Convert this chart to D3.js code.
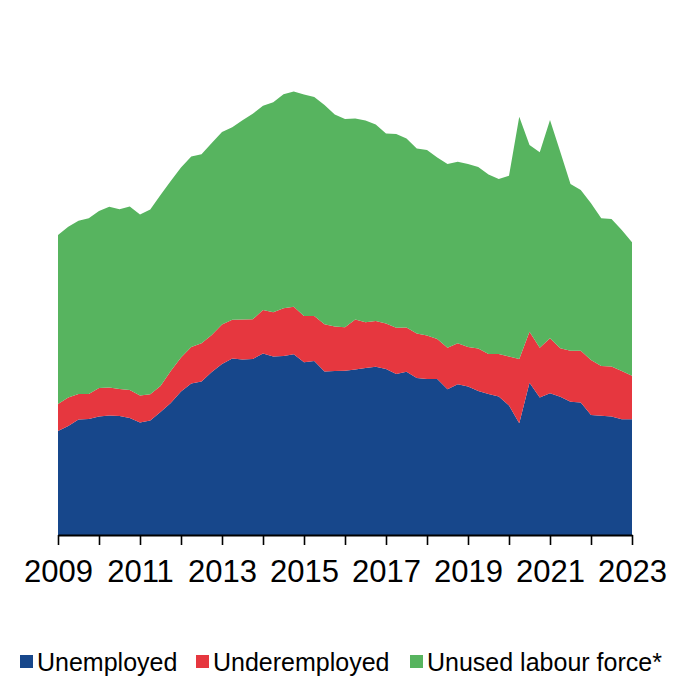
<!DOCTYPE html>
<html>
<head>
<meta charset="utf-8">
<script src="https://cdn.jsdelivr.net/npm/d3@7"></script>
<style>
  html, body { margin: 0; padding: 0; background: #ffffff; }
  svg { display: block; font-family: "Liberation Sans", Arial, sans-serif; }
</style>
</head>
<body>
<svg id="chart" width="685" height="678"></svg>
<script>
// Quarterly observations, 2009 Q1 – 2023 Q1 (thousands of people)
const quarters = [
  "2009Q1","2009Q2","2009Q3","2009Q4","2010Q1","2010Q2","2010Q3","2010Q4",
  "2011Q1","2011Q2","2011Q3","2011Q4","2012Q1","2012Q2","2012Q3","2012Q4",
  "2013Q1","2013Q2","2013Q3","2013Q4","2014Q1","2014Q2","2014Q3","2014Q4",
  "2015Q1","2015Q2","2015Q3","2015Q4","2016Q1","2016Q2","2016Q3","2016Q4",
  "2017Q1","2017Q2","2017Q3","2017Q4","2018Q1","2018Q2","2018Q3","2018Q4",
  "2019Q1","2019Q2","2019Q3","2019Q4","2020Q1","2020Q2","2020Q3","2020Q4",
  "2021Q1","2021Q2","2021Q3","2021Q4","2022Q1","2022Q2","2022Q3","2022Q4",
  "2023Q1"
];

const unemployed = [
  104, 109, 115.5, 116, 118.5, 119.5, 119, 117,
  112.5, 114.5, 123, 132, 143.5, 151.5, 153.5, 163,
  171, 176.5, 175.5, 176, 181.5, 178.5, 179, 180.7,
  172.7, 174, 163.5, 164, 164.3, 165.5, 167, 168.3,
  166, 161, 163.3, 157, 156, 156, 145.7, 150.7,
  148.5, 144, 141, 138.5, 129.5, 111.7, 152.3, 137.5,
  141.7, 138.3, 133.3, 132.5, 120, 119.3, 118.5, 115.7,
  115.7
];

const underemployed = [
  27, 28.5, 25.5, 25, 28.5, 28, 27, 28,
  27, 26.2, 26, 32, 34, 36.5, 38.2, 37,
  39.5, 38.8, 40, 39.7, 43.5, 44.2, 47.7, 47.6,
  46.3, 45, 47.2, 44.5, 43.4, 50, 45.7, 45.7,
  45.5, 46.3, 44.2, 44.5, 43.5, 40, 41.6, 41,
  39.5, 42.5, 40, 42.5, 49, 64.3, 51, 49.8,
  55, 48.4, 51, 51.8, 55, 49.7, 50, 48.3,
  43.6
];

const unusedLabourForce = [
  169, 170.8, 173.3, 175.7, 177, 180.8, 179.7, 183.5,
  181, 184.8, 191, 190, 190, 190.5, 189.1, 192,
  192.5, 192.5, 199.2, 205.5, 204.3, 210, 214.1, 215.2,
  221.5, 219, 219.3, 212, 208.3, 201, 201.8, 196.5,
  190, 193.7, 189, 185, 185.5, 181.5, 183.7, 181.6,
  183, 181.5, 179.5, 175, 180.8, 242.3, 186.7, 195.4,
  218.3, 196.6, 166.7, 160.7, 156.7, 147.7, 147.5, 141,
  133.4
];

const seriesNames = ["Unemployed", "Underemployed", "Unused labour force*"];
const seriesColors = ["#17478B", "#E6373F", "#57B45F"];

const tickYears = [2009, 2010, 2011, 2012, 2013, 2014, 2015, 2016, 2017, 2018, 2019, 2020, 2021, 2022, 2023];
const tickLabels = ["2009", "2011", "2013", "2015", "2017", "2019", "2021", "2023"];

// ---- build rows for the stack ----
const rows = quarters.map((q, i) => ({
  t: +q.slice(0, 4) + (+q.slice(5) - 1) / 4,
  "Unemployed": unemployed[i],
  "Underemployed": underemployed[i],
  "Unused labour force*": unusedLabourForce[i]
}));

const stacked = d3.stack().keys(seriesNames)(rows);

const svg = d3.select("#chart");
const plotLeft = 58, plotRight = 632, plotBottom = 535, plotTop = 35;

const x = d3.scaleLinear().domain([2009, 2023]).range([plotLeft, plotRight]);
const y = d3.scaleLinear().domain([0, 500]).range([plotBottom, plotTop]);

const area = d3.area()
  .x(d => x(d.data.t))
  .y0(d => y(d[0]))
  .y1(d => y(d[1]));

svg.append("g")
  .selectAll("path")
  .data(stacked)
  .join("path")
  .attr("fill", (d, i) => seriesColors[i])
  .attr("d", area);

// ---- x axis ----
const xAxis = d3.axisBottom(x)
  .tickValues(tickYears)
  .tickSize(10)
  .tickSizeOuter(0)
  .tickPadding(15)
  .tickFormat(d => tickLabels.includes(String(d)) ? String(d) : "");

const gx = svg.append("g")
  .attr("transform", `translate(0,${plotBottom})`)
  .call(xAxis);

gx.select(".domain").attr("stroke", "#000").attr("stroke-width", 2);
gx.selectAll(".tick line").attr("stroke", "#000").attr("stroke-width", 1.6);
gx.selectAll(".tick text")
  .attr("fill", "#000")
  .style("font-size", "31px")
  .style("font-family", "'Liberation Sans', Arial, sans-serif");

// ---- legend ----
const legendItems = [
  { name: seriesNames[0], color: seriesColors[0], x: 20 },
  { name: seriesNames[1], color: seriesColors[1], x: 196 },
  { name: seriesNames[2], color: seriesColors[2], x: 410 }
];

const legend = svg.append("g").attr("transform", "translate(0,662)");
const li = legend.selectAll("g").data(legendItems).join("g")
  .attr("transform", d => `translate(${d.x},0)`);
li.append("rect")
  .attr("x", 0).attr("y", -7)
  .attr("width", 13).attr("height", 13)
  .attr("fill", d => d.color);
li.append("text")
  .attr("x", 17).attr("y", 9)
  .style("font-size", "25px")
  .attr("fill", "#000")
  .text(d => d.name);
</script>
</body>
</html>
